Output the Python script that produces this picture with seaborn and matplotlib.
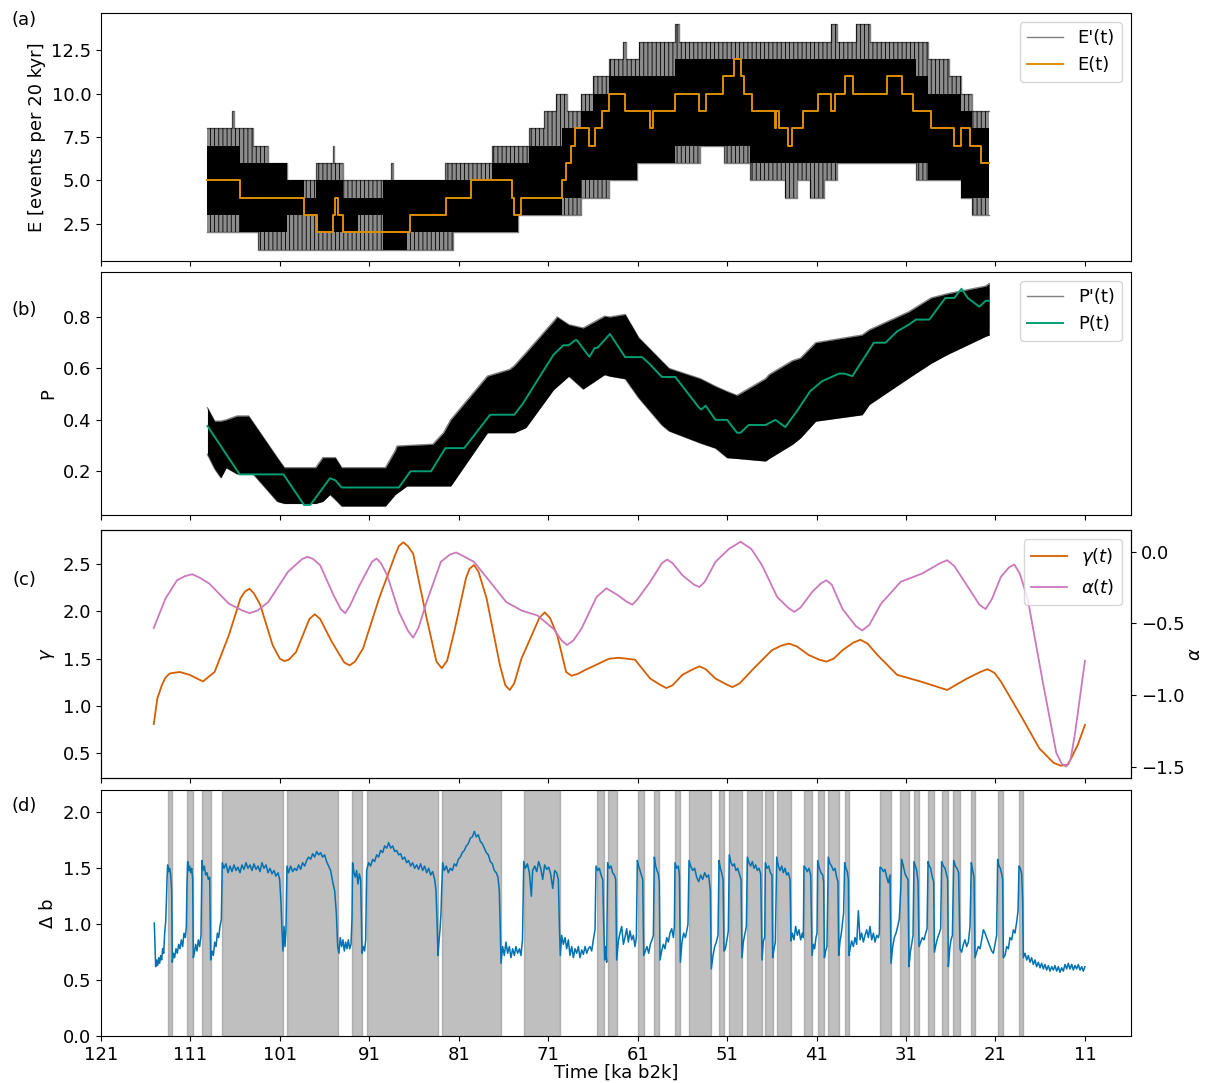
import matplotlib
matplotlib.use("Agg")
import matplotlib.pyplot as plt
import seaborn as sns

# ---------------- data ----------------
time_ticks = [121, 111, 101, 91, 81, 71, 61, 51, 41, 31, 21, 11]

# (a) ensemble envelope of E'(t), step values (hold from t_i to t_i+1)
ea_t = [109.1, 108.3, 106.3, 106.1, 105.5, 104.0, 103.4, 102.3, 100.2, 98.3,
        97.0, 96.1, 95.1, 94.9, 93.9, 92.3, 89.5, 88.6, 88.3, 86.8,
        82.5, 81.6, 77.3, 74.4, 73.1, 71.5, 70.1, 69.5, 68.9, 67.3,
        66.0, 64.2, 62.6, 62.3, 61.1, 60.9, 56.8, 56.4, 54.0, 51.4,
        48.4, 44.5, 43.2, 41.7, 40.2, 39.4, 38.7, 36.6, 35.0, 34.0,
        29.9, 28.6, 26.2, 24.9, 23.6, 21.7]
ea_hi = [8, 8, 9, 8, 8, 7, 7, 6, 5, 5,
         6, 6, 7, 6, 5, 5, 5, 6, 5, 5,
         6, 6, 7, 7, 8, 9, 10, 10, 9, 10,
         11, 12, 13, 12, 12, 13, 14, 13, 13, 13,
         13, 13, 13, 13, 13, 14, 13, 14, 13, 13,
         13, 12, 11, 10, 9, 9]
ea_lo = [2, 2, 2, 2, 2, 2, 1, 1, 1, 1,
         1, 1, 1, 1, 1, 1, 1, 1, 1, 1,
         1, 2, 2, 3, 3, 3, 3, 3, 3, 4,
         4, 5, 5, 5, 6, 6, 6, 6, 7, 6,
         5, 4, 5, 4, 5, 5, 6, 6, 6, 6,
         5, 5, 5, 4, 3, 3]
ea_core_lo = [3, 3, 3, 3, 2, 2, 2, 2, 3, 3,
              2, 2, 2, 2, 2, 3, 1, 1, 1, 2,
              2, 2, 2, 3, 3, 3, 3, 4, 4, 5,
              5, 5, 5, 5, 6, 6, 7, 7, 7, 7,
              6, 6, 6, 6, 6, 6, 6, 6, 6, 6,
              6, 5, 5, 4, 4, 4]
ea_core_hi = [7, 7, 7, 7, 6, 6, 6, 6, 5, 4,
              5, 5, 5, 5, 4, 4, 5, 5, 5, 5,
              5, 5, 6, 6, 7, 7, 7, 8, 8, 9,
              10, 11, 11, 11, 11, 11, 12, 12, 12, 12,
              12, 12, 12, 12, 12, 12, 12, 12, 12, 12,
              11, 10, 10, 9, 8, 8]

# (a) E(t)
e_t = [109.1, 105.5, 98.3, 96.8, 95.1, 94.85, 94.5, 94.0, 86.5, 82.4,
       79.6, 75.1, 74.8, 74.1, 69.5, 69.0, 68.5, 68.0, 66.4, 65.8,
       65.0, 64.2, 62.4, 59.6, 59.3, 56.8, 54.1, 53.4, 51.5, 50.2,
       49.5, 49.1, 48.2, 45.7, 45.5, 45.2, 44.2, 43.8, 42.5, 40.8,
       39.4, 38.9, 37.8, 36.9, 33.1, 31.5, 30.2, 28.2, 25.6, 24.8,
       23.8, 22.6, 21.7]
e_v = [5, 4, 3, 2, 3, 4, 3, 2, 3, 4,
       5, 4, 3, 4, 5, 6, 7, 8, 7, 8,
       9, 10, 9, 8, 9, 10, 9, 10, 11, 12,
       11, 10, 9, 8, 9, 8, 7, 8, 9, 10,
       9, 10, 11, 10, 11, 10, 9, 8, 7, 8,
       7, 6, 6]

# (b) ensemble envelope of P'(t)
pb_t = [109.1, 108.3, 107.6, 107.0, 105.8, 104.5, 104.0, 101.3, 100.5, 97.0,
        96.2, 95.4, 94.8, 94.1, 89.2, 88.1, 87.9, 86.8, 83.9, 82.7,
        81.9, 77.8, 75.3, 74.8, 73.5, 70.4, 70.0, 68.7, 67.1, 64.7,
        64.1, 62.4, 60.9, 58.3, 57.5, 54.0, 52.3, 51.0, 49.9, 46.7,
        46.3, 43.7, 42.8, 41.1, 35.9, 35.1, 30.7, 28.2, 26.4, 22.1, 21.7]
pb_hi = [0.447, 0.395, 0.395, 0.40, 0.415, 0.415, 0.39, 0.253, 0.214, 0.214,
         0.253, 0.253, 0.253, 0.214, 0.214, 0.28, 0.298, 0.30, 0.305, 0.35,
         0.40, 0.57, 0.596, 0.61, 0.66, 0.783, 0.80, 0.77, 0.757, 0.803,
         0.80, 0.81, 0.72, 0.628, 0.60, 0.56, 0.53, 0.51, 0.495, 0.56,
         0.576, 0.63, 0.64, 0.70, 0.73, 0.75, 0.82, 0.874, 0.89, 0.92, 0.93]
pb_lo = [0.266, 0.21, 0.175, 0.214, 0.19, 0.19, 0.19, 0.083, 0.075, 0.075,
         0.083, 0.11, 0.09, 0.065, 0.065, 0.11, 0.115, 0.143, 0.143, 0.143,
         0.143, 0.35, 0.35, 0.35, 0.37, 0.518, 0.53, 0.57, 0.52, 0.576,
         0.57, 0.56, 0.486, 0.38, 0.357, 0.31, 0.29, 0.253, 0.25, 0.24,
         0.25, 0.305, 0.33, 0.395, 0.42, 0.46, 0.563, 0.62, 0.654, 0.725, 0.73]

# (b) P(t)
p_t = [109.1, 105.5, 100.6, 98.3, 97.6, 95.4, 94.8, 94.1, 87.7, 86.4,
       84.1, 82.5, 80.4, 79.5, 77.5, 74.8, 73.9, 70.4, 69.3, 68.7,
       68.0, 67.8, 66.4, 65.8, 65.5, 64.1, 62.4, 60.5, 59.6, 58.3,
       56.8, 54.2, 53.9, 53.4, 52.3, 51.0, 49.9, 49.5, 48.6, 46.7,
       45.6, 44.5, 43.2, 41.7, 40.4, 38.5, 37.9, 37.0, 34.6, 33.3,
       32.0, 30.7, 29.9, 28.4, 26.6, 25.6, 24.8, 24.1, 22.8, 22.1, 21.7]
p_v = [0.376, 0.188, 0.188, 0.069, 0.069, 0.173, 0.165, 0.137, 0.137, 0.20,
       0.20, 0.29, 0.29, 0.33, 0.42, 0.42, 0.46, 0.654, 0.69, 0.69,
       0.71, 0.71, 0.645, 0.68, 0.68, 0.734, 0.644, 0.644, 0.615, 0.567,
       0.567, 0.45, 0.44, 0.455, 0.40, 0.40, 0.35, 0.35, 0.38, 0.38,
       0.40, 0.372, 0.434, 0.512, 0.55, 0.58, 0.58, 0.57, 0.70, 0.70,
       0.744, 0.77, 0.79, 0.79, 0.874, 0.874, 0.91, 0.874, 0.84, 0.863, 0.863]

# (c) gamma(t) and alpha(t)
g_t = [115.1, 114.7, 114.2, 113.8, 113.3, 112.2, 111.1, 109.6, 108.3, 106.7,
       105.4, 104.9, 104.4, 103.9, 103.2, 101.8, 101.0, 100.5, 100.0, 99.2,
       97.7, 97.1, 96.5, 95.2, 93.8, 93.2, 92.6, 91.7, 89.9, 88.1,
       87.7, 87.2, 86.7, 86.1, 84.6, 83.5, 82.9, 82.3, 81.5, 80.2,
       79.8, 79.3, 78.8, 77.9, 76.4, 75.8, 75.3, 74.8, 74.0, 72.0,
       71.4, 70.8, 70.0, 69.0, 68.4, 67.7, 66.9, 64.2, 63.1, 61.3,
       59.6, 58.4, 57.8, 57.1, 56.0, 54.8, 54.1, 53.4, 52.3, 51.1,
       50.4, 49.6, 48.0, 46.0, 44.9, 44.1, 43.2, 41.9, 40.7, 39.9,
       39.1, 38.1, 36.9, 36.1, 35.3, 34.2, 32.0, 29.4, 26.4, 24.2,
       22.7, 21.9, 21.1, 20.4, 18.2, 16.1, 14.5, 13.7, 12.9, 11.8, 11.0]
g_v = [0.81, 1.08, 1.22, 1.30, 1.345, 1.36, 1.33, 1.26, 1.36, 1.75,
       2.14, 2.21, 2.24, 2.19, 2.07, 1.64, 1.50, 1.475, 1.49, 1.57,
       1.92, 1.97, 1.92, 1.68, 1.46, 1.43, 1.47, 1.61, 2.14, 2.60,
       2.69, 2.73, 2.69, 2.61, 1.93, 1.47, 1.40, 1.48, 1.79, 2.35,
       2.45, 2.49, 2.42, 2.14, 1.43, 1.22, 1.17, 1.24, 1.50, 1.93,
       1.99, 1.93, 1.75, 1.36, 1.32, 1.34, 1.38, 1.50, 1.51, 1.49,
       1.29, 1.22, 1.19, 1.22, 1.33, 1.39, 1.42, 1.39, 1.29, 1.23,
       1.20, 1.24, 1.40, 1.59, 1.64, 1.66, 1.63, 1.54, 1.49, 1.47,
       1.50, 1.59, 1.67, 1.70, 1.66, 1.54, 1.33, 1.26, 1.17, 1.29,
       1.36, 1.39, 1.35, 1.26, 0.905, 0.553, 0.40, 0.37, 0.38, 0.59, 0.80]
a_t = [115.1, 113.8, 112.5, 111.6, 110.8, 110.0, 108.9, 106.7, 105.2, 104.4,
       103.5, 102.3, 100.1, 98.5, 97.9, 97.3, 96.5, 95.0, 94.2, 93.7,
       93.2, 92.1, 90.7, 90.2, 89.7, 89.0, 87.7, 86.7, 86.1, 85.5,
       84.6, 83.0, 82.0, 81.3, 80.5, 79.3, 77.5, 75.7, 74.0, 72.2,
       70.4, 69.5, 68.9, 68.2, 67.3, 65.6, 64.5, 63.3, 62.2, 61.6,
       61.0, 59.6, 58.3, 57.7, 57.1, 56.0, 54.7, 54.1, 53.5, 52.3,
       50.8, 49.5, 48.3, 47.1, 45.4, 44.2, 43.5, 42.8, 41.5, 40.5,
       39.9, 39.3, 38.1, 36.6, 35.9, 35.1, 33.8, 31.6, 29.2, 27.2,
       26.4, 25.6, 24.2, 22.8, 22.1, 21.4, 20.4, 19.5, 18.9, 18.3,
       17.4, 15.7, 14.2, 13.6, 13.1, 12.6, 12.1, 11.0]
a_v = [-0.532, -0.328, -0.199, -0.17, -0.157, -0.18, -0.222, -0.363, -0.41, -0.429,
       -0.41, -0.351, -0.14, -0.05, -0.035, -0.05, -0.094, -0.304, -0.40, -0.429,
       -0.38, -0.234, -0.07, -0.047, -0.08, -0.164, -0.42, -0.55, -0.60, -0.53,
       -0.351, -0.07, -0.02, -0.005, -0.03, -0.07, -0.21, -0.351, -0.41, -0.445,
       -0.539, -0.62, -0.651, -0.62, -0.539, -0.316, -0.255, -0.30, -0.35, -0.37,
       -0.33, -0.21, -0.08, -0.054, -0.08, -0.164, -0.23, -0.246, -0.21, -0.07,
       0.02, 0.07, 0.02, -0.094, -0.316, -0.39, -0.42, -0.39, -0.281, -0.22,
       -0.199, -0.23, -0.40, -0.52, -0.55, -0.51, -0.363, -0.21, -0.152, -0.08,
       -0.059, -0.10, -0.234, -0.37, -0.40, -0.33, -0.176, -0.11, -0.089, -0.15,
       -0.328, -0.913, -1.405, -1.48, -1.50, -1.45, -1.265, -0.761]

# (d) delta b, one row per stretch of record
db_t = [115.04, 114.96, 114.89, 114.78, 114.66, 114.55, 114.44, 114.33, 114.22, 114.11, 113.99, 113.88, 113.77, 113.70, 113.62, 113.55, 113.44, 113.32, 113.21, 113.10, 113.03,
        112.91, 112.77, 112.62, 112.47, 112.32, 112.17, 112.02, 111.87, 111.72, 111.57, 111.46, 111.39, 111.31, 111.20, 111.09, 110.98, 110.86, 110.75, 110.68,
        110.57, 110.42, 110.27, 110.12, 109.97, 109.82, 109.71, 109.60, 109.45, 109.30, 109.15, 109.00, 108.85, 108.74,
        108.59, 108.44, 108.29, 108.14, 107.99, 107.85, 107.70, 107.55, 107.44,
        107.25, 107.03, 106.80, 106.58, 106.36, 106.13, 105.91, 105.69, 105.46, 105.24, 105.02, 104.79, 104.57, 104.34, 104.12, 103.90, 103.67, 103.45, 103.23, 103.00, 102.78, 102.55, 102.33, 102.11, 101.88, 101.66, 101.44, 101.21, 101.03, 100.88, 100.77, 100.66, 100.54, 100.43, 100.32,
        100.21, 100.02, 99.80, 99.57, 99.35, 99.13, 98.90, 98.68, 98.46, 98.23, 98.01, 97.79, 97.56, 97.34, 97.12, 96.89, 96.67, 96.45, 96.22, 96.00, 95.78, 95.55, 95.33, 95.10, 94.88, 94.69, 94.54,
        94.40, 94.25, 94.10, 93.95, 93.80, 93.65, 93.50, 93.35, 93.20, 93.05, 92.94, 92.87, 92.72, 92.57, 92.42, 92.27, 92.12, 91.97, 91.82,
        91.67, 91.53, 91.41, 91.30, 91.08, 90.86, 90.63, 90.41, 90.18, 89.96, 89.74, 89.51, 89.29, 89.06, 88.84, 88.62, 88.39, 88.17, 87.95, 87.72, 87.50, 87.28, 87.05, 86.83, 86.61, 86.38, 86.16, 85.94, 85.71, 85.49, 85.27, 85.04, 84.82, 84.59, 84.37, 84.15, 83.92, 83.70, 83.55, 83.44, 83.33,
        83.21, 83.10, 82.99, 82.92, 82.80, 82.62, 82.39, 82.17, 81.95, 81.72, 81.50, 81.28, 81.05, 80.83, 80.61, 80.38, 80.16, 79.94, 79.71, 79.49, 79.26, 79.04, 78.82, 78.59, 78.37, 78.15, 77.92, 77.70, 77.48, 77.25, 77.03, 76.81, 76.62, 76.47, 76.36, 76.28,
        76.10, 75.91, 75.73, 75.54, 75.35, 75.17, 74.98, 74.79, 74.61, 74.42, 74.22, 74.05, 73.88, 73.74,
        73.56, 73.33, 73.11, 72.89, 72.74, 72.51, 72.29, 72.07, 71.84, 71.62, 71.40, 71.17, 70.95, 70.73, 70.50, 70.28, 70.06, 69.87, 69.76, 69.65,
        69.50, 69.31, 69.12, 68.94, 68.75, 68.57, 68.38, 68.19, 68.01, 67.82, 67.63, 67.45, 67.26, 67.07, 66.89, 66.70, 66.52, 66.33, 66.14, 65.96, 65.77, 65.66,
        65.47, 65.29, 65.10, 64.91, 64.80, 64.69, 64.58, 64.47, 64.36, 64.17, 63.98, 63.80, 63.61, 63.46, 63.35,
        63.16, 62.98, 62.79, 62.60, 62.42, 62.23, 62.04, 61.86, 61.67, 61.49, 61.30, 61.15, 61.04, 60.89, 60.74, 60.59, 60.44, 60.33,
        60.14, 59.96, 59.77, 59.59, 59.40, 59.25, 59.14, 58.99, 58.84, 58.69, 58.58, 58.50,
        58.32, 58.13, 57.95, 57.76, 57.57, 57.39, 57.20, 57.01, 56.90, 56.83, 56.64, 56.46, 56.34, 56.23,
        56.05, 55.86, 55.67, 55.49, 55.38, 55.26, 55.08, 54.85, 54.63, 54.41, 54.18, 53.96, 53.74, 53.51, 53.29, 53.07, 52.88, 52.77,
        52.58, 52.39, 52.21, 52.02, 51.91, 51.76, 51.61, 51.46, 51.35,
        51.20, 51.02, 50.87, 50.76, 50.57, 50.38, 50.20, 50.01, 49.82, 49.64, 49.45, 49.34,
        49.19, 49.00, 48.85, 48.74, 48.56, 48.37, 48.18, 48.00, 47.81, 47.63, 47.44, 47.25, 47.10,
        46.95, 46.80, 46.73, 46.55, 46.36, 46.17, 45.99, 45.91,
        45.76, 45.61, 45.46, 45.28, 45.09, 44.90, 44.72, 44.53, 44.35, 44.16, 43.97, 43.86,
        43.71, 43.53, 43.34, 43.15, 42.97, 42.78, 42.60, 42.48, 42.41, 42.22, 42.04, 41.85, 41.66, 41.51,
        41.36, 41.22, 41.07, 40.95, 40.88, 40.69, 40.51, 40.32, 40.21, 40.13,
        39.99, 39.84, 39.69, 39.50, 39.32, 39.13, 38.94, 38.76, 38.61, 38.53,
        38.38, 38.23, 38.09, 37.98, 37.86, 37.71, 37.56, 37.45, 37.38,
        37.26, 37.08, 36.89, 36.70, 36.52, 36.33, 36.14, 35.96, 35.77, 35.59, 35.40, 35.21, 35.03, 34.84, 34.65, 34.47, 34.28, 34.09, 33.98, 33.91, 33.72, 33.54, 33.35, 33.16, 32.98, 32.79, 32.68,
        32.49, 32.31, 32.12, 31.93, 31.75, 31.60, 31.49, 31.30, 31.11, 30.93, 30.78, 30.67,
        30.52, 30.37, 30.22, 30.11, 29.96, 29.81, 29.66, 29.55,
        29.36, 29.18, 28.99, 28.80, 28.65, 28.54, 28.39, 28.25, 28.06, 27.91, 27.83,
        27.65, 27.46, 27.28, 27.13, 27.02, 26.83, 26.64, 26.46, 26.35, 26.27,
        26.12, 25.97, 25.82, 25.67, 25.49, 25.30, 25.12, 24.97,
        24.78, 24.59, 24.41, 24.22, 24.03, 23.85, 23.70, 23.55, 23.40, 23.29,
        23.10, 22.92, 22.73, 22.54, 22.36, 22.17, 21.99, 21.80, 21.61, 21.43, 21.24, 21.05, 20.87, 20.76, 20.61, 20.46, 20.31, 20.20, 20.12,
        19.94, 19.75, 19.56, 19.38, 19.19, 19.00, 18.82, 18.63, 18.48, 18.37, 18.22, 18.07, 17.96, 17.89,
        17.70, 17.51, 17.33, 17.14, 16.96, 16.77, 16.58, 16.40, 16.21, 16.02, 15.84, 15.65, 15.47, 15.28, 15.09, 14.91, 14.72, 14.53, 14.35, 14.16, 13.97, 13.79, 13.60, 13.42, 13.23, 13.04, 12.86, 12.67, 12.48, 12.30, 12.11, 11.92, 11.74, 11.55, 11.36, 11.18, 11.00]
db_v = [1.01, 0.80, 0.62, 0.68, 0.63, 0.70, 0.65, 0.72, 0.68, 0.78, 0.74, 0.92, 1.02, 1.18, 1.40, 1.53, 1.47, 1.50, 1.44, 1.30, 0.66,
        0.74, 0.70, 0.78, 0.74, 0.82, 0.78, 0.86, 0.80, 0.92, 0.88, 0.98, 1.35, 1.56, 1.48, 1.52, 1.46, 1.50, 1.40, 0.70,
        0.74, 0.82, 0.76, 0.86, 0.80, 0.90, 1.57, 1.48, 1.52, 1.44, 1.46, 1.40, 1.42, 0.68,
        0.76, 0.72, 0.84, 0.80, 0.92, 0.88, 0.98, 1.04, 1.55,
        1.50, 1.54, 1.46, 1.52, 1.47, 1.53, 1.48, 1.51, 1.46, 1.53, 1.49, 1.55, 1.50, 1.53, 1.48, 1.54, 1.49, 1.52, 1.47, 1.55, 1.50, 1.53, 1.46, 1.50, 1.45, 1.48, 1.43, 1.46, 1.40, 1.20, 0.95, 0.76, 0.98, 0.80, 0.95,
        1.52, 1.46, 1.52, 1.47, 1.50, 1.48, 1.53, 1.49, 1.55, 1.52, 1.57, 1.60, 1.58, 1.63, 1.60, 1.65, 1.62, 1.64, 1.60, 1.62, 1.56, 1.52, 1.48, 1.38, 1.30, 1.10, 0.80,
        0.74, 0.88, 0.80, 0.86, 0.76, 0.84, 0.78, 0.86, 0.78, 0.82, 1.05, 1.55, 1.46, 1.42, 1.48, 1.36, 1.45, 1.40, 0.74,
        0.80, 0.76, 0.86, 1.48, 1.55, 1.52, 1.58, 1.56, 1.62, 1.60, 1.66, 1.64, 1.70, 1.68, 1.73, 1.68, 1.70, 1.65, 1.66, 1.62, 1.63, 1.58, 1.60, 1.55, 1.57, 1.52, 1.55, 1.50, 1.53, 1.49, 1.54, 1.48, 1.52, 1.46, 1.50, 1.44, 1.47, 1.40, 1.30, 1.05, 0.72,
        0.85, 0.95, 1.10, 1.30, 1.55, 1.48, 1.52, 1.46, 1.50, 1.48, 1.54, 1.52, 1.58, 1.60, 1.64, 1.66, 1.70, 1.72, 1.77, 1.78, 1.83, 1.78, 1.80, 1.74, 1.72, 1.68, 1.64, 1.62, 1.56, 1.54, 1.48, 1.46, 1.42, 1.30, 0.95, 0.65,
        0.80, 0.72, 0.84, 0.74, 0.80, 0.70, 0.78, 0.72, 0.80, 0.74, 0.78, 0.72, 0.86, 1.56,
        1.50, 1.54, 1.46, 1.25, 1.48, 1.52, 1.47, 1.56, 1.50, 1.40, 1.53, 1.49, 1.51, 1.45, 1.32, 1.48, 1.46, 1.40, 1.00, 0.72,
        0.90, 0.82, 0.88, 0.78, 0.86, 0.72, 0.80, 0.70, 0.78, 0.74, 0.80, 0.70, 0.77, 0.73, 0.80, 0.74, 0.78, 0.80, 0.76, 0.86, 0.95, 1.52,
        1.48, 1.50, 1.44, 1.40, 1.00, 0.68, 0.80, 0.66, 1.55, 1.50, 1.52, 1.46, 1.44, 1.40, 0.68,
        0.85, 0.92, 0.98, 0.82, 0.88, 0.96, 0.84, 0.94, 0.86, 0.90, 0.80, 0.88, 1.57, 1.52, 1.48, 1.44, 1.40, 0.72,
        0.76, 0.80, 0.74, 0.82, 0.86, 0.90, 1.60, 1.52, 1.48, 1.45, 1.38, 0.68,
        0.76, 0.82, 0.78, 0.88, 0.84, 0.92, 0.96, 0.88, 0.98, 1.55, 1.50, 1.52, 1.44, 0.66,
        0.84, 0.92, 0.88, 0.95, 1.00, 1.57, 1.52, 1.48, 1.50, 1.42, 1.38, 1.44, 1.40, 1.46, 1.42, 1.44, 1.30, 0.60,
        0.72, 0.80, 0.84, 0.90, 1.57, 1.50, 1.46, 1.40, 0.76,
        0.78, 0.86, 0.94, 1.62, 1.55, 1.52, 1.54, 1.48, 1.50, 1.45, 1.40, 0.70,
        0.84, 0.92, 0.98, 1.60, 1.55, 1.52, 1.56, 1.50, 1.53, 1.48, 1.50, 1.45, 0.68,
        0.85, 0.88, 1.55, 1.50, 1.52, 1.46, 1.44, 0.70,
        0.78, 0.84, 1.60, 1.52, 1.48, 1.52, 1.46, 1.50, 1.44, 1.46, 1.40, 0.85,
        0.92, 0.86, 0.98, 0.90, 0.95, 0.86, 0.92, 0.88, 1.52, 1.50, 1.47, 1.50, 1.44, 0.72,
        0.82, 0.78, 0.88, 0.92, 1.57, 1.50, 1.46, 1.44, 1.38, 0.70,
        0.76, 0.80, 1.60, 1.54, 1.52, 1.48, 1.50, 1.42, 1.38, 0.72,
        0.85, 0.92, 1.02, 1.10, 1.55, 1.50, 1.47, 1.40, 0.72,
        0.78, 0.85, 0.80, 0.88, 0.82, 1.12, 0.86, 0.92, 0.84, 0.90, 0.95, 0.88, 0.98, 0.86, 0.92, 0.84, 0.90, 0.88, 0.92, 1.51, 1.50, 1.47, 1.49, 1.42, 1.37, 1.44, 0.65,
        0.80, 0.88, 0.92, 0.98, 1.05, 1.30, 1.58, 1.52, 1.45, 1.42, 1.40, 0.62,
        0.75, 0.82, 0.90, 1.56, 1.52, 1.48, 1.38, 0.80,
        0.84, 0.88, 0.86, 0.92, 0.96, 1.56, 1.52, 1.50, 1.42, 1.38, 0.75,
        0.82, 0.88, 0.92, 0.96, 1.56, 1.52, 1.50, 1.44, 1.40, 0.62,
        0.78, 0.86, 0.90, 1.57, 1.52, 1.50, 1.46, 0.78,
        0.75, 0.82, 0.86, 0.80, 0.84, 0.98, 1.55, 1.48, 1.42, 0.70,
        0.75, 0.80, 0.78, 0.86, 0.95, 0.92, 0.88, 0.84, 0.80, 0.76, 0.74, 0.82, 0.90, 1.58, 1.52, 1.50, 1.45, 1.40, 0.70,
        0.72, 0.80, 0.78, 0.88, 0.86, 0.95, 0.92, 1.02, 1.12, 1.52, 1.50, 1.45, 1.20, 0.70,
        0.74, 0.68, 0.72, 0.66, 0.70, 0.64, 0.68, 0.62, 0.66, 0.61, 0.65, 0.60, 0.64, 0.59, 0.63, 0.58, 0.62, 0.59, 0.63, 0.58, 0.62, 0.57, 0.61, 0.58, 0.64, 0.60, 0.65, 0.60, 0.64, 0.59, 0.63, 0.60, 0.64, 0.59, 0.62, 0.58, 0.62]
assert len(db_t) == len(db_v)

# (d) shaded intervals (older edge, younger edge)
is_start = [113.47, 111.42, 109.71, 107.44, 100.21, 92.90, 91.30, 82.84, 73.74, 65.55,
            64.32, 61.00, 59.17, 56.83, 55.30, 51.90, 50.75, 48.78, 46.76, 45.46,
            42.40, 40.88, 39.72, 37.86, 33.91, 31.64, 30.11, 28.58, 27.00, 25.71,
            23.70, 20.75, 18.37]
is_end = [113.03, 110.68, 108.74, 100.69, 94.47, 91.86, 83.37, 76.32, 69.68, 64.80,
          63.35, 60.33, 58.58, 56.27, 52.80, 51.40, 49.34, 47.10, 45.91, 43.90,
          41.51, 40.13, 38.53, 37.41, 32.68, 30.67, 29.55, 27.87, 26.31, 24.96,
          23.29, 20.16, 17.92]

# ---------------- figure ----------------
pal = sns.color_palette("colorblind")
c_blue, c_orange, c_green, c_red, c_pink = pal[0], pal[1], pal[2], pal[3], pal[4]

plt.rcParams.update({"font.size": 13, "axes.labelsize": 13, "xtick.labelsize": 13,
                     "ytick.labelsize": 13, "legend.fontsize": 13,
                     "hatch.linewidth": 0.6})

fig = plt.figure(figsize=(12.05, 10.83), dpi=100)
W, H = 1205, 1083

def box(top, bottom):
    return [101 / W, 1 - bottom / H, 1030 / W, (bottom - top) / H]

ax_a = fig.add_axes(box(13, 261))
ax_b = fig.add_axes(box(272, 515), sharex=ax_a)
ax_c = fig.add_axes(box(530, 778), sharex=ax_a)
ax_d = fig.add_axes(box(790, 1036), sharex=ax_a)

# (a)
ax_a.fill_between(ea_t, ea_lo, ea_hi, step="post", color="k", alpha=0.45, lw=0)
ax_a.fill_between(ea_t, ea_lo, ea_hi, step="post", facecolor="none",
                  edgecolor="k", hatch="||||", lw=0)
ax_a.fill_between(ea_t, ea_core_lo, ea_core_hi, step="post", color="k", lw=0)
sns.lineplot(x=ea_t, y=ea_hi, drawstyle="steps-post", sort=False, estimator=None,
             color="k", alpha=0.5, lw=1, ax=ax_a, label="E'(t)")
sns.lineplot(x=ea_t, y=ea_lo, drawstyle="steps-post", sort=False, estimator=None,
             color="k", alpha=0.5, lw=1, ax=ax_a)
sns.lineplot(x=e_t, y=e_v, drawstyle="steps-post", sort=False, estimator=None,
             color=c_orange, lw=1.4, ax=ax_a, label="E(t)")
ax_a.set_ylim(0.35, 14.65)
ax_a.set_ylabel("E [events per 20 kyr]")
ax_a.legend(loc="upper right")

# (b)
ax_b.fill_between(pb_t, pb_lo, pb_hi, color="k", lw=0)
sns.lineplot(x=pb_t, y=pb_hi, sort=False, estimator=None, color="k", alpha=0.5,
             lw=1, ax=ax_b, label="P'(t)")
sns.lineplot(x=pb_t, y=pb_lo, sort=False, estimator=None, color="k", alpha=0.5,
             lw=1, ax=ax_b)
sns.lineplot(x=p_t, y=p_v, sort=False, estimator=None, color=c_green, lw=1.4,
             ax=ax_b, label="P(t)")
ax_b.set_ylim(0.03, 0.975)
ax_b.set_ylabel("P")
ax_b.legend(loc="upper right")

# (c)
ax_c2 = ax_c.twinx()
sns.lineplot(x=g_t, y=g_v, sort=False, estimator=None, color=c_red, lw=1.3,
             ax=ax_c, legend=False)
sns.lineplot(x=a_t, y=a_v, sort=False, estimator=None, color=c_pink, lw=1.3,
             ax=ax_c2, legend=False)
ax_c.set_ylim(0.24, 2.86)
ax_c2.set_ylim(-1.58, 0.152)
ax_c.set_ylabel(r"$\gamma$")
ax_c2.set_ylabel(r"$\alpha$", labelpad=1)
handles = ax_c.get_lines()[-1:] + ax_c2.get_lines()[-1:]
ax_c2.legend(handles=handles, labels=[r"$\gamma(t)$", r"$\alpha(t)$"], loc="upper right")

# (d)
for t0, t1 in zip(is_start, is_end):
    ax_d.axvspan(t0, t1, color="grey", alpha=0.5)
sns.lineplot(x=db_t, y=db_v, sort=False, estimator=None, color=c_blue, lw=1.1, ax=ax_d)
ax_d.set_ylim(0, 2.2)
ax_d.set_ylabel("Δ b")
ax_d.set_xlabel("Time [ka b2k]", labelpad=0)

ax_a.set_xlim(121, 5.85)
ax_a.set_xticks(time_ticks)
for ax in (ax_a, ax_b, ax_c):
    ax.tick_params(labelbottom=False)
    ax.set_xlabel("")

for lab, y in zip(["(a)", "(b)", "(c)", "(d)"], [20, 310, 580, 806]):
    fig.text(24 / W, 1 - y / H, lab, ha="center", va="center", fontsize=13)

fig.savefig("out.png", dpi=100)
